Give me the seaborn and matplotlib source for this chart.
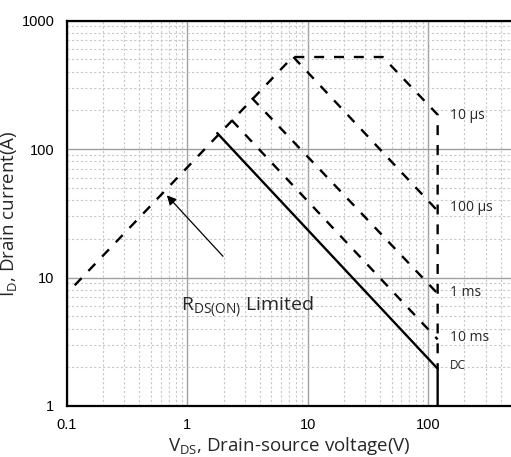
import numpy as np
import pandas as pd
import seaborn as sns
import matplotlib
matplotlib.use("Agg")
import matplotlib.pyplot as plt
from matplotlib.ticker import FixedLocator, FixedFormatter, LogLocator, NullFormatter

# ---- data ----
curve_names = ["10 µs", "100 µs", "1 ms", "10 ms", "DC"]
v_10us = [0.116, 7.5, 42, 120, 120]
i_10us = [8.7, 520, 520, 185, 1.95]
v_100us = [7.6, 120]
i_100us = [520, 33]
v_1ms = [3.43, 120]
i_1ms = [250, 7.5]
v_10ms = [2.33, 120]
i_10ms = [168, 3.3]
v_dc = [1.77, 120, 120]
i_dc = [133, 1.95, 1.0]
label_y = [183, 35, 7.6, 3.4, 2.08]
label_x = 152

x_ticks = [0.1, 1, 10, 100]
x_tick_labels = ["0.1", "1", "10", "100"]
y_ticks = [1, 10, 100, 1000]
y_tick_labels = ["1", "10", "100", "1000"]

arrow_tip = (0.652, 45.2)
arrow_tail = (2.05, 14.1)
rds_text_pos = (0.885, 5.5)

sns.set_style("white")
plt.rcParams["font.family"] = ["Open Sans", "DejaVu Sans"]
plt.rcParams["mathtext.default"] = "regular"

fig = plt.figure(figsize=(5.11, 4.57), dpi=100)
ax = fig.add_axes([0.131, 0.1116, 0.869, 0.8435])

series = [(v_10us, i_10us, "dash"), (v_100us, i_100us, "dash"),
          (v_1ms, i_1ms, "dash"), (v_10ms, i_10ms, "dash"), (v_dc, i_dc, "solid")]
for name, (vv, ii, st) in zip(curve_names, series):
    df = pd.DataFrame({"V": vv, "I": ii})
    n_before = len(ax.lines)
    sns.lineplot(data=df, x="V", y="I", sort=False, estimator=None, ax=ax,
                 color="black", linewidth=1.7)
    ln = ax.lines[n_before]
    if st == "dash":
        ln.set_dashes((4.2, 4.2))
        ln.set_dash_capstyle("butt")
    ln.set_zorder(3)

ax.set_xscale("log")
ax.set_yscale("log")
ax.set_xlim(0.1, 488)
ax.set_ylim(1, 1000)

ax.xaxis.set_major_locator(FixedLocator(x_ticks))
ax.xaxis.set_major_formatter(FixedFormatter(x_tick_labels))
ax.yaxis.set_major_locator(FixedLocator(y_ticks))
ax.yaxis.set_major_formatter(FixedFormatter(y_tick_labels))
ax.xaxis.set_minor_locator(LogLocator(base=10, subs=np.arange(2, 10)))
ax.yaxis.set_minor_locator(LogLocator(base=10, subs=np.arange(2, 10)))
ax.xaxis.set_minor_formatter(NullFormatter())
ax.yaxis.set_minor_formatter(NullFormatter())

ax.grid(True, which="major", color="#a0a0a0", linewidth=1.0, linestyle="-")
ax.grid(True, which="minor", color="#c8c8c8", linewidth=0.8, linestyle=(0, (2, 2)))
ax.set_axisbelow(True)

ax.tick_params(which="major", direction="out", length=6, width=1.2, colors="black",
               labelsize=10.5, pad=3)
ax.tick_params(which="minor", direction="out", length=3.5, width=1.0, colors="black")
for lab in ax.get_xticklabels() + ax.get_yticklabels():
    lab.set_fontfamily(["Liberation Sans", "DejaVu Sans"])

for side in ["left", "bottom", "top"]:
    ax.spines[side].set_visible(True)
    ax.spines[side].set_linewidth(1.6)
    ax.spines[side].set_color("black")
ax.spines["right"].set_visible(False)

ax.set_xlabel("V$_{DS}$, Drain-source voltage(V)", fontsize=13.5, labelpad=2)
ax.set_ylabel("I$_{D}$, Drain current(A)", fontsize=13.5, labelpad=2)

for name, yy in zip(curve_names, label_y):
    fs = 8.5 if name == "DC" else 10
    ax.text(label_x, yy, name, fontsize=fs, ha="left", va="center")

ax.text(rds_text_pos[0], rds_text_pos[1], "R$_{DS(ON)}$ Limited", fontsize=14,
        ha="left", va="baseline")

ax.annotate("", xy=arrow_tip, xytext=arrow_tail,
            arrowprops=dict(arrowstyle="-|>", color="black", lw=0.9, mutation_scale=14))

fig.savefig("out.png", dpi=100)
